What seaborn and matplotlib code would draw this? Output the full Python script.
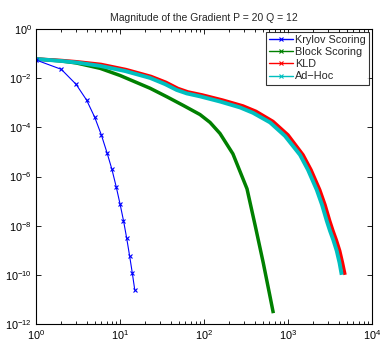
import numpy as np
import pandas as pd
import matplotlib
matplotlib.use("Agg")
import matplotlib.pyplot as plt
from matplotlib.lines import Line2D
from matplotlib.ticker import LogLocator, NullLocator
import seaborn as sns

# ---- data (x = iteration, logy = log10 |gradient|) ----
krylov_x = [1, 2, 3, 4, 5, 6, 7, 8, 9, 10, 11, 12, 13, 14, 15]
krylov_logy = [-1.26, -1.64, -2.25, -2.89, -3.59, -4.31, -5.03, -5.70,
               -6.41, -7.11, -7.79, -8.50, -9.22, -9.92, -10.62]

block_x = [1, 2, 3, 5.8, 10, 15.1, 22.8, 36.3, 56.7, 89.6, 118, 155,
           221, 325, 410, 508, 611, 669]
block_logy = [-1.22, -1.30, -1.38, -1.60, -1.89, -2.15, -2.41, -2.76, -3.11,
              -3.48, -3.80, -4.25, -5.08, -6.50, -8.05, -9.52, -10.88, -11.56]

kld_x = [1, 2, 3, 5.94, 11.8, 23.4, 35.3, 49.0, 64.5, 94.6, 166, 291, 416,
         663, 1000, 1510, 1880, 2385, 2757, 3135, 3433, 3757, 4125, 4454, 4773]
kld_logy = [-1.22, -1.28, -1.33, -1.44, -1.65, -1.93, -2.17, -2.42, -2.56,
            -2.68, -2.89, -3.13, -3.35, -3.76, -4.31, -5.12, -5.73, -6.54,
            -7.15, -7.80, -8.21, -8.58, -9.02, -9.51, -10.0]

adhoc_x = [1, 2, 3, 5.78, 11.5, 22.8, 34.3, 47.3, 62.2, 89.6, 155, 268, 383,
           611, 921, 1390, 1730, 2197, 2541, 2890, 3162, 3460, 3800, 4105, 4357]
adhoc_logy = [-1.22, -1.30, -1.36, -1.50, -1.71, -1.99, -2.24, -2.48, -2.62,
              -2.74, -2.95, -3.19, -3.41, -3.80, -4.35, -5.12, -5.73, -6.54,
              -7.15, -7.80, -8.21, -8.58, -9.02, -9.51, -10.0]

labels = ["Krylov Scoring", "Block Scoring", "KLD", "Ad\u2212Hoc"]
colors = ["#0000ff", "#008000", "#ff0000", "#00bfbf"]

sns.set_theme(style="ticks")
plt.rcParams["font.family"] = ["Liberation Sans", "DejaVu Sans"]
plt.rcParams["mathtext.fontset"] = "custom"
plt.rcParams["mathtext.rm"] = "Liberation Sans"
plt.rcParams["mathtext.it"] = "Liberation Sans"

fig = plt.figure(figsize=(3.8, 3.42), dpi=100)
ax = fig.add_axes([36 / 380, 18 / 342, 336 / 380, 295 / 342])

def frame(x, logy, name):
    return pd.DataFrame({"x": np.asarray(x, float),
                         "y": 10.0 ** np.asarray(logy, float),
                         "s": name})

series = [
    (frame(block_x, block_logy, labels[1]), colors[1], 2.5),
    (frame(kld_x, kld_logy, labels[2]), colors[2], 2.5),
    (frame(adhoc_x, adhoc_logy, labels[3]), colors[3], 2.8),
]
for df, c, lw in series:
    sns.lineplot(data=df, x="x", y="y", ax=ax, color=c, lw=lw,
                 sort=False, estimator=None, legend=False,
                 solid_joinstyle="round", solid_capstyle="butt")

dk = frame(krylov_x, krylov_logy, labels[0])
sns.lineplot(data=dk, x="x", y="y", ax=ax, color=colors[0], lw=0.8,
             sort=False, estimator=None, legend=False,
             marker="x", markersize=3, markeredgewidth=0.8, mec=colors[0])

ax.set_xscale("log")
ax.set_yscale("log")
ax.set_xlim(1, 1e4)
ax.set_ylim(1e-12, 1)
ax.set_xlabel("")
ax.set_ylabel("")
ax.set_yticks([10.0 ** k for k in range(-12, 1, 2)])
ax.yaxis.set_minor_locator(NullLocator())
ax.xaxis.set_major_locator(LogLocator(base=10, numticks=10))
ax.xaxis.set_minor_locator(LogLocator(base=10, subs=np.arange(2, 10), numticks=20))
ax.tick_params(which="both", direction="in", top=True, right=True,
               labelsize=7.8, colors="black", width=0.6)
ax.tick_params(which="major", length=3.5, pad=3)
ax.tick_params(which="minor", length=2)
for sp in ax.spines.values():
    sp.set_linewidth(0.8)
    sp.set_color("black")

ax.set_title("Magnitude of the Gradient P = 20 Q = 12", fontsize=7.5, pad=6)

handles = [Line2D([], [], color=c, lw=1.0, marker="x", markersize=2.5,
                  markeredgewidth=0.8) for c in colors]
leg = ax.legend(handles, labels, loc="upper right", fontsize=7.8,
                frameon=True, fancybox=False, edgecolor="black",
                borderpad=0.3, labelspacing=0.2, handlelength=2.2,
                handletextpad=0.25, borderaxespad=0.25)
leg.get_frame().set_linewidth(0.8)

fig.savefig("out.png", dpi=100)
